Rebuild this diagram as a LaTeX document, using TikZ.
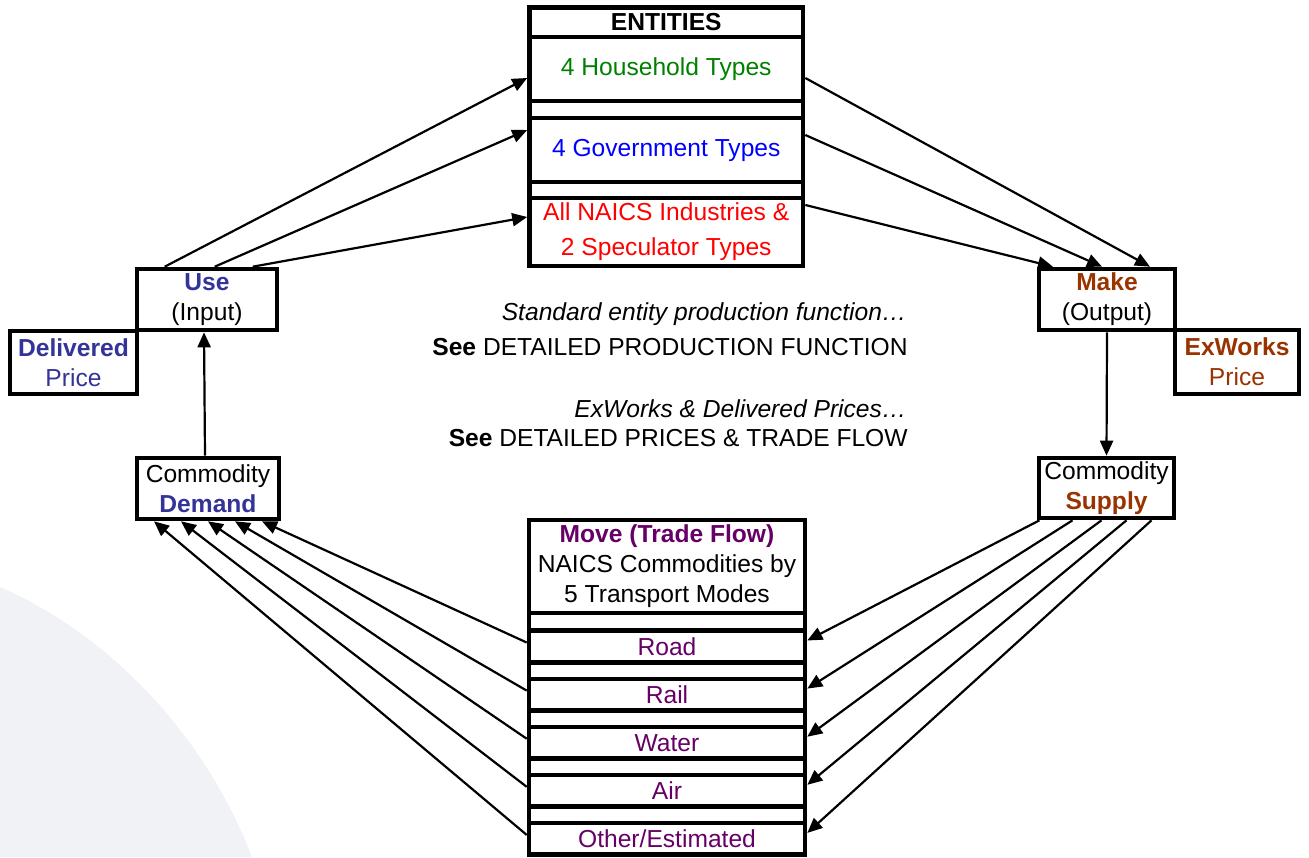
\documentclass[tikz,border=0pt]{standalone}
\usepackage{fontspec}
\setmainfont{Liberation Sans}
\usetikzlibrary{arrows.meta,calc}

\definecolor{hhgreen}{RGB}{0,128,0}
\definecolor{govblue}{RGB}{0,0,255}
\definecolor{indred}{RGB}{255,0,0}
\definecolor{usecol}{RGB}{51,51,153}
\definecolor{makecol}{RGB}{153,51,0}
\definecolor{movecol}{RGB}{102,0,102}
\definecolor{globe}{RGB}{241,242,246}

\tikzset{
    box/.style={draw, line width=2.3pt, inner sep=0pt, align=center},
    flow/.style={-{Triangle[length=7.5pt,width=6.5pt]}, line width=1.1pt},
    note/.style={anchor=base east, inner sep=0pt}
}

\begin{document}
\begin{tikzpicture}[x=0.5pt, y=-0.5pt, font=\fontsize{12.3}{15}\selectfont]
            \useasboundingbox (0,0) rectangle (1309,857);
            \fill[globe] (0,587) .. controls (110,635) and (205,735) .. (252,857) -- (0,857) -- cycle;

            % entities column
            \draw[line width=2.3pt] (529.5,7.5) rectangle (803,266);
            \node[box, minimum width=136.75pt, minimum height=14.75pt] (entities) at (666.25,22.25) {\textbf{ENTITIES}};
            \node[box, minimum width=136.75pt, minimum height=32pt, text=hhgreen] (household) at (666.25,69) {4 Household Types};
            \node[box, minimum width=136.75pt, minimum height=32pt, text=govblue] (government) at (666.25,150) {4 Government Types};
            \node[box, minimum width=136.75pt, minimum height=34pt, text=indred, font=\fontsize{12.3}{17.5}\selectfont] (industries) at (666.25,232) {All NAICS Industries \&\\2 Speculator Types};

            % use / make side
            \node[box, minimum width=70pt, minimum height=30.5pt] (use) at (207,299.5) {\textcolor{usecol}{\textbf{Use}}\\(Input)};
            \node[box, minimum width=63.5pt, minimum height=31.5pt, text=usecol] (delivered) at (73.5,362.5) {\textbf{Delivered}\\Price};
            \node[box, minimum width=71pt, minimum height=30.5pt] (demand) at (208,488.5) {Commodity\\\textcolor{usecol}{\textbf{Demand}}};
            \node[box, minimum width=68pt, minimum height=30.5pt] (make) at (1107,299.5) {\textcolor{makecol}{\textbf{Make}}\\(Output)};
            \node[box, minimum width=62pt, minimum height=32pt, text=makecol] (exworks) at (1237,362) {\textbf{ExWorks}\\Price};
            \node[box, minimum width=67.5pt, minimum height=30pt] (supply) at (1106.5,488) {Commodity\\\textcolor{makecol}{\textbf{Supply}}};

            % move column
            \draw[line width=2.3pt] (529,520) rectangle (805,854);
            \node[box, minimum width=138pt, minimum height=46.5pt] (move) at (667,566.5) {\textcolor{movecol}{\textbf{Move (Trade Flow)}}\\NAICS Commodities by\\5 Transport Modes};
            \foreach \m/\t [count=\i from 0] in {road/Road, rail/Rail, water/Water, air/Air, other/{Other/Estimated}}
                \node[box, minimum width=138pt, minimum height=15.75pt, text=movecol] (\m) at (667,{646.5+48.1*\i}) {\t};

            \node[note] (prodnote) at (907,320) {\textit{Standard entity production function…}};
            \node[note] (prodsee) at (908,355) {\textbf{See} DETAILED PRODUCTION FUNCTION};
            \node[note] (pricenote) at (907,417) {\textit{ExWorks \& Delivered Prices…}};
            \node[note] (pricesee) at (908,446) {\textbf{See} DETAILED PRICES \& TRADE FLOW};

            \draw[flow] ($(use.north west)+(30,0)$) -- ($(household.west)+(0,9)$);
            \draw[flow] ($(use.north west)+(80,0)$) -- ($(government.west)+(0,-20)$);
            \draw[flow] ($(use.north west)+(118,0)$) -- ($(industries.west)+(0,-15)$);

            \draw[flow] ($(household.east)+(0,9)$) -- ($(make.north)+(43,0)$);
            \draw[flow] ($(government.east)+(0,-15)$) -- ($(make.north)+(-5,0)$);
            \draw[flow] ($(industries.east)+(0,-27)$) -- ($(make.north)+(-54,0)$);

            \draw[flow] ($(demand.north)+(-3,0)$) -- ($(use.south)+(-3,0)$);
            \draw[flow] (make.south) -- (supply.north);

            \foreach \m/\dx/\sx in {road/54/-67, rail/27/-34, water/0/-5, air/-27/20, other/-54/45} {
                \draw[flow] ($(\m.west)+(0,-4)$) -- ($(demand.south)+(\dx,0)$);
                \draw[flow] ($(supply.south)+(\sx,0)$) -- ($(\m.east)+(0,-6)$);
            }
\end{tikzpicture}
\end{document}
